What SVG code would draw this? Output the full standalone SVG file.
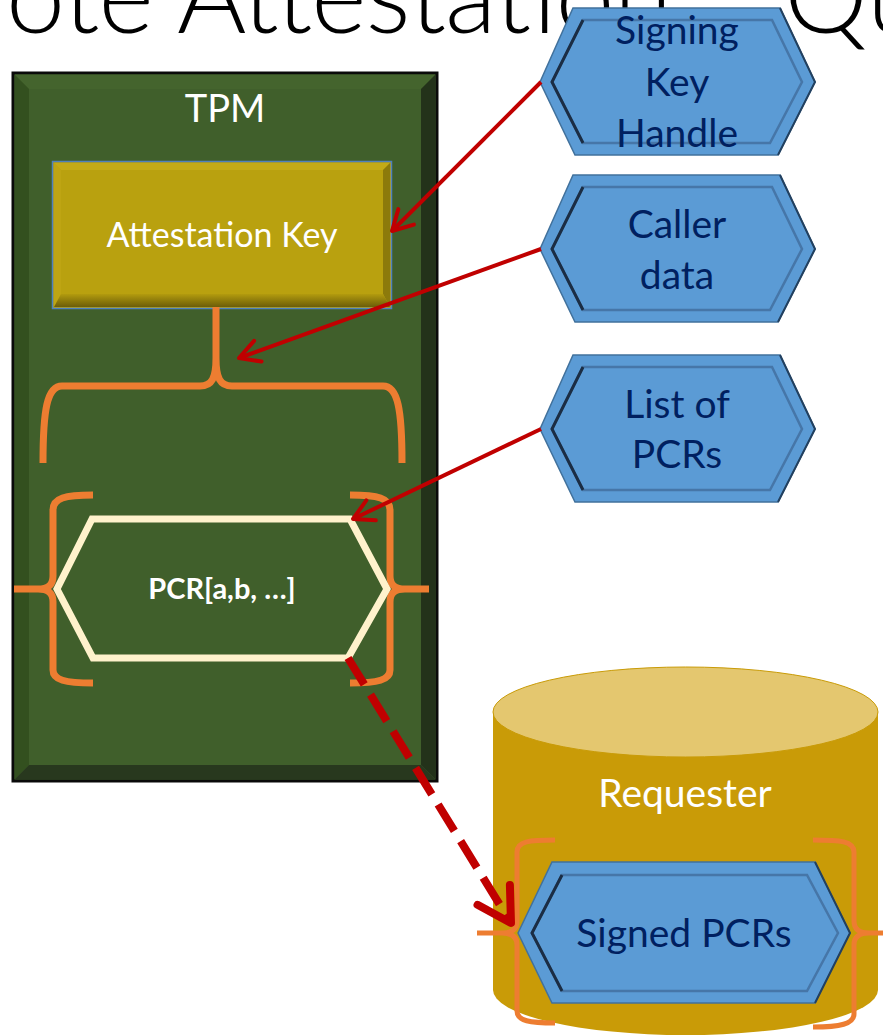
<svg xmlns="http://www.w3.org/2000/svg" width="883" height="1035" viewBox="0 0 883 1035">
  <style>
    .title { font-family: Lato, "Liberation Sans", sans-serif; font-weight: 300; font-size: 106px; fill: #000; }
    .lbl { font-family: Lato, "Liberation Sans", sans-serif; font-size: 39px; text-anchor: middle; }
    .white { fill: #ffffff; }
    .navy { fill: #002060; }
    .brace { fill: none; stroke: #ed7d31; stroke-linecap: butt; stroke-linejoin: round; }
    .arrow { fill: none; stroke: #c00000; stroke-width: 4; }
    .dashed { fill: none; stroke: #c00000; stroke-width: 8; stroke-dasharray: 31 12; }
  </style>
  <defs>
    <marker id="head" markerUnits="userSpaceOnUse" viewBox="-30 -20 40 40" refX="0" refY="0" markerWidth="40" markerHeight="40" orient="auto">
      <path d="M-20,-11 L0,0 L-20,11" fill="none" stroke="#c00000" stroke-width="4" stroke-linecap="round" stroke-linejoin="round"/>
    </marker>
    <marker id="headBig" markerUnits="userSpaceOnUse" viewBox="-45 -30 60 60" refX="0" refY="0" markerWidth="60" markerHeight="60" orient="auto">
      <path d="M-33,-19 L0,0 L-33,19" fill="none" stroke="#c00000" stroke-width="8" stroke-linecap="round" stroke-linejoin="round"/>
    </marker>
    <linearGradient id="keyShade" x1="0" y1="0" x2="0" y2="1">
      <stop offset="0" stop-color="#b29b0e"/>
      <stop offset="1" stop-color="#6c5d09"/>
    </linearGradient>
    <!-- bevelled blue hexagon, origin at the left tip -->
    <g id="hexA">
      <polygon points="0,0 33,-74 240,-74 275,0 238,73 35,73" fill="#5b9bd5" stroke="#41719c" stroke-width="1.5"/>
      <polygon points="12,0 43,-62 232,-62 262,0 230,61 43,61" fill="none" stroke="#4676a8" stroke-width="2.5"/>
      <polyline points="43,-62 12,0 43,61" fill="none" stroke="#1b2d44" stroke-width="3"/>
      <polyline points="240,-74 275,0 238,73" fill="none" stroke="#22405f" stroke-width="2"/>
    </g>
    <g id="hexB">
      <polygon points="0,0 34,-71 297,-71 332,0 297,70 34,70" fill="#5b9bd5" stroke="#41719c" stroke-width="1.5"/>
      <polygon points="14,0 44,-58 289,-58 320,0 289,58 44,58" fill="none" stroke="#4676a8" stroke-width="2.5"/>
      <polyline points="44,-58 14,0 44,58" fill="none" stroke="#1b2d44" stroke-width="3"/>
      <polyline points="297,-71 332,0 297,70" fill="none" stroke="#22405f" stroke-width="2"/>
    </g>
  </defs>

  <rect width="883" height="1035" fill="#ffffff"/>

  <!-- slide heading, partly off the top edge -->
  <g id="heading">
    <text class="title" x="6" y="33" textLength="666" lengthAdjust="spacing">ote Attestation</text>
    <text class="title" x="784" y="33">Qu</text>
  </g>

  <!-- TPM container -->
  <g id="tpm">
    <rect x="13" y="73" width="424" height="708" fill="#405f2b" stroke="#0a0a0a" stroke-width="3"/>
    <polygon points="14.5,74.5 435.5,74.5 421,89 29,89" fill="#44642d"/>
    <polygon points="14.5,74.5 29,89 29,765 14.5,779.5" fill="#33501f"/>
    <polygon points="435.5,74.5 421,89 421,765 435.5,779.5" fill="#23321a"/>
    <polygon points="14.5,779.5 29,765 421,765 435.5,779.5" fill="#28381e"/>
    <text class="lbl white" x="225" y="122" style="font-size:38px">TPM</text>
  </g>

  <!-- Attestation key block -->
  <g id="attestation-key">
    <rect x="52.5" y="161.5" width="339" height="147" fill="#b9a10f" stroke="#4f81bd" stroke-width="1.5"/>
    <polygon points="54,163 390,163 383,170 61,170" fill="#c3aa16"/>
    <polygon points="54,163 61,170 61,294 54,307" fill="#bea513"/>
    <polygon points="390,163 390,307 383,294 383,170" fill="#8c7a0b"/>
    <polygon points="54,307 61,294 383,294 390,307" fill="url(#keyShade)"/>
    <text class="lbl white" x="222" y="247" style="font-size:34px">Attestation Key</text>
  </g>

  <!-- brace grouping the quote inputs -->
  <g id="quote-brace">
    <path class="brace" stroke-width="7" d="M43,463 C43,410 47,386 62,386 L200,386 C212,386 216,378 216,358 L216,307 M216,358 C216,378 220,386 232,386 L383,386 C398,386 402,410 402,463"/>
  </g>

  <!-- PCR selection -->
  <g id="pcr-selection">
    <path class="brace" stroke-width="7" d="M93,495 C65,495 53,498 53,510 L53,576 C53,585 48,589 38,589 L14,589 M38,589 C48,589 53,593 53,602 L53,670 C53,680 65,683 93,683"/>
    <path class="brace" stroke-width="7" d="M350,495 C378,495 390,498 390,510 L390,576 C390,585 395,589 405,589 L429,589 M405,589 C395,589 390,593 390,602 L390,670 C390,680 378,683 350,683"/>
    <polygon points="92,519 350,519 387,589 348,658 93,658 57,589" fill="none" stroke="#fff2cc" stroke-width="7"/>
    <text class="lbl white" x="222" y="599" style="font-size:29px;font-weight:bold">PCR[a,b, …]</text>
  </g>

  <!-- inputs -->
  <g id="signing-key-handle">
    <use href="#hexA" transform="translate(540,82)"/>
    <text class="lbl navy" x="677" y="44">Signing</text>
    <text class="lbl navy" x="677" y="96">Key</text>
    <text class="lbl navy" x="677" y="147">Handle</text>
  </g>
  <g id="caller-data">
    <use href="#hexA" transform="translate(540,249)"/>
    <text class="lbl navy" x="677" y="238">Caller</text>
    <text class="lbl navy" x="677" y="289">data</text>
  </g>
  <g id="list-of-pcrs">
    <use href="#hexA" transform="translate(540,429)"/>
    <text class="lbl navy" x="677" y="418">List of</text>
    <text class="lbl navy" x="677" y="468">PCRs</text>
  </g>

  <!-- requester store -->
  <g id="requester">
    <path d="M493,712 L493,990 A192.5,45 0 0 0 878,990 L878,712 Z" fill="#c99b07"/>
    <ellipse cx="685.5" cy="712" rx="192.5" ry="45" fill="#e4c76f" stroke="#c99b07" stroke-width="1"/>
    <text class="lbl white" x="685" y="807">Requester</text>
    <path class="brace" stroke-width="5" d="M555,840 C530,840 517,841 517,852 L517,921 C517,929 512,933 502,933 L477,933 M502,933 C512,933 517,937 517,945 L517,1011 C517,1021 530,1023 555,1023"/>
    <path class="brace" stroke-width="5" d="M813,840 C840,840 854,841 854,852 L854,921 C854,929 859,933 869,933 L883,933 M869,933 C859,933 854,937 854,945 L854,1014 C854,1024 840,1027 813,1027"/>
  </g>
  <g id="signed-pcrs">
    <use href="#hexB" transform="translate(518,933)"/>
    <text class="lbl navy" x="684" y="947">Signed PCRs</text>
  </g>

  <!-- connectors -->
  <g id="connectors">
    <line class="arrow" x1="541" y1="82" x2="392" y2="231" marker-end="url(#head)"/>
    <line class="arrow" x1="541" y1="249" x2="239" y2="358" marker-end="url(#head)"/>
    <line class="arrow" x1="541" y1="429" x2="353" y2="519" marker-end="url(#head)"/>
    <line class="dashed" x1="348" y1="658" x2="511" y2="923" marker-end="url(#headBig)"/>
  </g>
</svg>
